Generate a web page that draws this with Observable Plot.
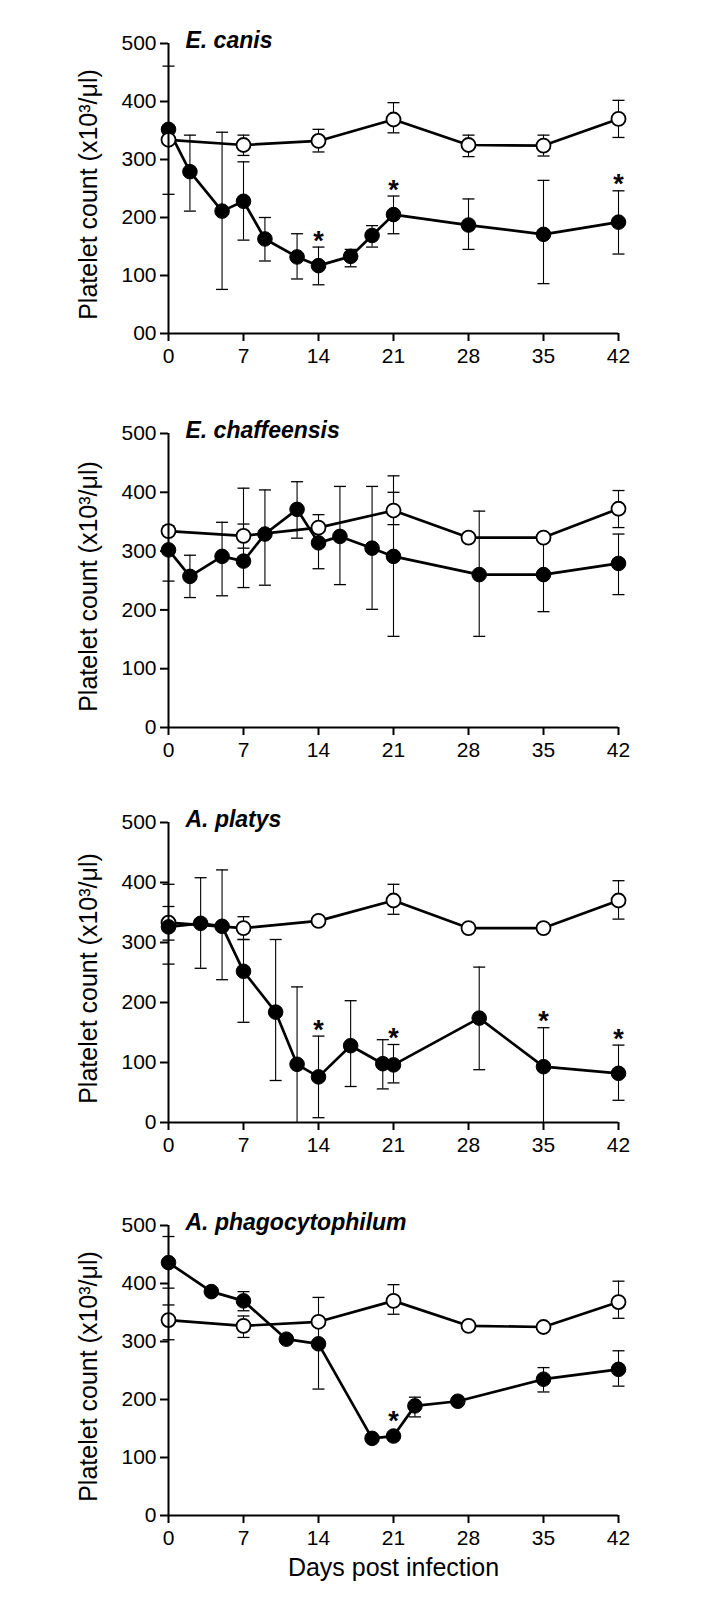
<!DOCTYPE html>
<html>
<head>
<meta charset="utf-8">
<script src="https://cdn.jsdelivr.net/npm/d3@7"></script>
<script src="https://cdn.jsdelivr.net/npm/@observablehq/plot@0.6"></script>
<style>
  html, body { margin: 0; padding: 0; background: white; }
  #chart { width: 712px; }
  #chart svg { display: block; }
</style>
</head>
<body>
<div id="chart"></div>
<script>
// ---- shared axes ----
const xTicks = [0, 7, 14, 21, 28, 35, 42];
const yTicks = [0, 100, 200, 300, 400, 500];
const yTickLabelsCanis = ["00", "100", "200", "300", "400", "500"];
const yTickLabelsOther = ["0", "100", "200", "300", "400", "500"];
const yAxisLabel = "Platelet count (x10³/μl)";
const xAxisLabel = "Days post infection";
const panelTitles = ["E. canis", "E. chaffeensis", "A. platys", "A. phagocytophilum"];

// ---- control (uninfected, open circles) ----
const ctrlDays = [0, 7, 14, 21, 28, 35, 42];

const canisCtrlMean = [334, 325, 332, 369, 325, 324, 370];
const canisCtrlLo   = [null, 307, 313, 346, 305, 306, 338];
const canisCtrlHi   = [null, 342, 352, 398, 342, 342, 402];

const chafCtrlMean = [334, 326, 340, 369, 323, 323, 372];
const chafCtrlLo   = [null, 305, null, 345, null, null, 340];
const chafCtrlHi   = [null, 346, null, 400, null, null, 403];

const platCtrlMean = [333, 324, 336, 370, 324, 324, 370];
const platCtrlLo   = [304, 305, null, 347, null, null, 339];
const platCtrlHi   = [360, 343, null, 397, null, null, 403];

const phagCtrlMean = [337, 327, 334, 370, 327, 325, 368];
const phagCtrlLo   = [303, 307, null, 347, null, null, 340];
const phagCtrlHi   = [363, 344, null, 398, null, null, 404];

// ---- infected (filled circles) ----
const canisInfDays = [0, 2, 5, 7, 9, 12, 14, 17, 19, 21, 28, 35, 42];
const canisInfMean = [352, 279, 211, 228, 163, 132, 117, 133, 169, 205, 187, 171, 192];
const canisInfLo   = [240, 211, 76, 161, 125, 94, 84, 115, 149, 172, 145, 86, 137];
const canisInfHi   = [461, 342, 347, 296, 200, 172, 149, 145, 186, 237, 232, 264, 246];
const canisStars   = [14, 21, 42];

const chafInfDays = [0, 2, 5, 7, 9, 12, 14, 16, 19, 21, 29, 35, 42];
const chafInfMean = [302, 257, 291, 283, 329, 371, 314, 325, 305, 291, 260, 260, 279];
const chafInfLo   = [249, 221, 224, 238, 242, 322, 270, 243, 201, 155, 155, 197, 226];
const chafInfHi   = [343, 293, 349, 407, 404, 418, 362, 410, 410, 428, 368, 323, 329];
const chafStars   = [];

const platInfDays = [0, 3, 5, 7, 10, 12, 14, 17, 20, 21, 29, 35, 42];
const platInfMean = [326, 332, 327, 252, 184, 97, 76, 128, 98, 96, 174, 93, 82];
const platInfLo   = [264, 257, 238, 167, 70, 0, 8, 60, 56, 66, 88, 0, 37];
const platInfHi   = [397, 408, 421, 305, 305, 226, 144, 203, 138, 130, 259, 158, 129];
const platStars   = [14, 21, 35, 42];

const phagInfDays = [0, 4, 7, 11, 14, 19, 21, 23, 27, 35, 42];
const phagInfMean = [436, 386, 370, 304, 296, 133, 137, 189, 197, 235, 252];
const phagInfLo   = [392, null, 353, null, 218, null, null, 170, null, 213, 223];
const phagInfHi   = [481, null, 386, null, 376, null, null, 204, null, 255, 284];
const phagStars   = [21];

// ---- helpers ----
function rows(days, mean, lo, hi) {
  return days.map((d, i) => ({day: d, mean: mean[i], lo: lo[i], hi: hi[i]}));
}
const capSymbol = {
  draw(context, size) {
    const r = Math.sqrt(size / Math.PI);
    context.moveTo(-r, 0);
    context.lineTo(r, 0);
  }
};
function errMarks(data) {
  const e = data.filter(d => d.lo != null && d.hi != null);
  return [
    Plot.ruleX(e, {x: "day", y1: "lo", y2: "hi", stroke: "black", strokeWidth: 1.1}),
    Plot.dot(e, {x: "day", y: "hi", symbol: capSymbol, r: 6, stroke: "black", strokeWidth: 1.3, fill: "none"}),
    Plot.dot(e.filter(d => d.lo > 0), {x: "day", y: "lo", symbol: capSymbol, r: 6, stroke: "black", strokeWidth: 1.3, fill: "none"})
  ];
}

const panels = [
  {title: panelTitles[0], labels: yTickLabelsCanis,
   ctrl: rows(ctrlDays, canisCtrlMean, canisCtrlLo, canisCtrlHi),
   inf: rows(canisInfDays, canisInfMean, canisInfLo, canisInfHi), stars: canisStars,
   height: 393, mt: 43, mb: 60, infOnTop: false},
  {title: panelTitles[1], labels: yTickLabelsOther,
   ctrl: rows(ctrlDays, chafCtrlMean, chafCtrlLo, chafCtrlHi),
   inf: rows(chafInfDays, chafInfMean, chafInfLo, chafInfHi), stars: chafStars,
   height: 394, mt: 40, mb: 60, infOnTop: false},
  {title: panelTitles[2], labels: yTickLabelsOther,
   ctrl: rows(ctrlDays, platCtrlMean, platCtrlLo, platCtrlHi),
   inf: rows(platInfDays, platInfMean, platInfLo, platInfHi), stars: platStars,
   height: 395, mt: 35, mb: 60, infOnTop: true},
  {title: panelTitles[3], labels: yTickLabelsOther,
   ctrl: rows(ctrlDays, phagCtrlMean, phagCtrlLo, phagCtrlHi),
   inf: rows(phagInfDays, phagInfMean, phagInfLo, phagInfHi), stars: phagStars,
   height: 418, mt: 43, mb: 85, infOnTop: false, xLabel: true}
];

const font = "'Liberation Sans', Arial, sans-serif";

for (const p of panels) {
  const labelMap = new Map(yTicks.map((t, i) => [t, p.labels[i]]));
  const infLayer = [
    Plot.line(p.inf, {x: "day", y: "mean", stroke: "black", strokeWidth: 2.7}),
    Plot.dot(p.inf, {x: "day", y: "mean", r: 7.3, fill: "black", stroke: "black", strokeWidth: 1})
  ];
  const ctrlLayer = [
    Plot.line(p.ctrl, {x: "day", y: "mean", stroke: "black", strokeWidth: 2.7}),
    Plot.dot(p.ctrl, {x: "day", y: "mean", r: 7, fill: "white", stroke: "black", strokeWidth: 1.8})
  ];
  const starRows = p.inf.filter(d => p.stars.includes(d.day));
  const marks = [
    ...errMarks(p.ctrl),
    ...errMarks(p.inf),
    ...(p.infOnTop ? [...ctrlLayer, ...infLayer] : [...infLayer, ...ctrlLayer]),
    Plot.ruleY([0], {stroke: "black", strokeWidth: 2}),
    Plot.ruleX([0], {stroke: "black", strokeWidth: 2}),
    Plot.axisX({ticks: xTicks, tickSize: 8, tickPadding: 7, strokeWidth: 2, label: null, fontSize: 21}),
    Plot.axisY({ticks: yTicks, tickSize: 8, tickPadding: 4, strokeWidth: 2, label: null, fontSize: 21,
                tickFormat: d => labelMap.get(d)}),
    Plot.text(starRows.filter(d => d.hi != null), {x: "day", y: "hi", text: () => "*", fontSize: 27, fontWeight: "bold", dy: -6}),
    Plot.text(starRows.filter(d => d.hi == null), {x: "day", y: "mean", text: () => "*", fontSize: 27, fontWeight: "bold", dy: -15}),
    Plot.text([p.title], {frameAnchor: "top-left", dx: 17, dy: -3, textAnchor: "start", lineAnchor: "middle",
                          fontSize: 23, fontWeight: "bold", fontStyle: "italic"}),
    Plot.text([yAxisLabel], {frameAnchor: "left", dx: -80, dy: 6, rotate: -90, textAnchor: "middle", lineAnchor: "middle", fontSize: 25})
  ];
  if (p.xLabel) {
    marks.push(Plot.text([xAxisLabel], {frameAnchor: "bottom", dy: 52, textAnchor: "middle", lineAnchor: "middle", fontSize: 25}));
  }
  const svg = Plot.plot({
    width: 712,
    height: p.height,
    marginLeft: 168,
    marginRight: 94,
    marginTop: p.mt,
    marginBottom: p.mb,
    x: {domain: [0, 42]},
    y: {domain: [0, 500]},
    style: {fontFamily: font, fontSize: "21px", color: "black", background: "white", overflow: "visible"},
    marks
  });
  document.getElementById("chart").appendChild(svg);
}
</script>
</body>
</html>
